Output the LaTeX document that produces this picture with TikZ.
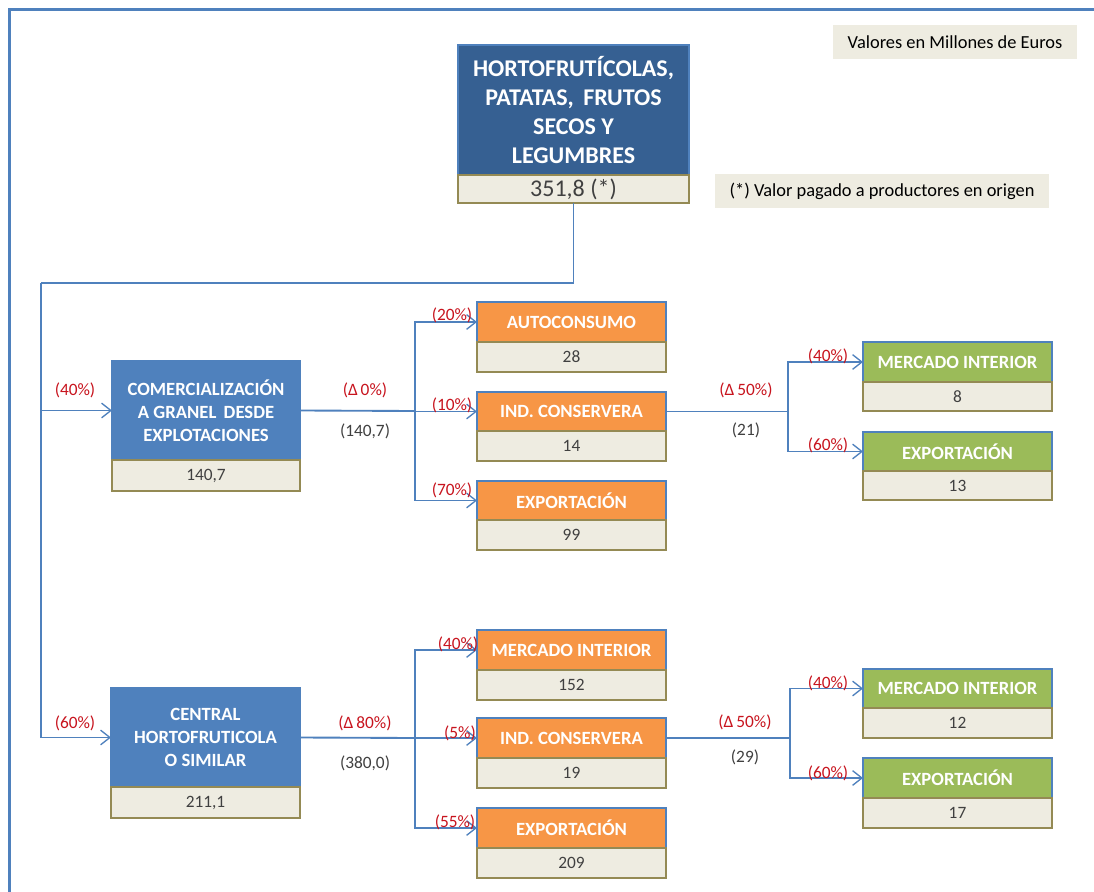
\documentclass[tikz,border=0pt]{standalone}
\usepackage{fontspec}
\setmainfont{Carlito}
\usetikzlibrary{arrows.meta}
\definecolor{dkblue}{HTML}{366092}
\definecolor{mdblue}{HTML}{4F81BD}
\definecolor{orng}{HTML}{F79646}
\definecolor{grn}{HTML}{9BBB59}
\definecolor{beige}{HTML}{EEECE1}
\definecolor{olive}{HTML}{948A54}
\definecolor{lblred}{HTML}{C8141E}
\definecolor{txtgray}{HTML}{404040}
\tikzset{
  hdr/.style={draw=mdblue, line width=1pt, inner sep=0pt, outer sep=0pt, align=center,
    text=white, font=\bfseries\fontsize{14}{17.25}\selectfont},
  valbox/.style={draw=olive, fill=beige, line width=1.1pt, inner sep=0pt, outer sep=0pt,
    text=txtgray, font=\fontsize{13}{15}\selectfont},
  conn/.style={draw=mdblue, line width=1.4pt},
  arr/.style={conn, -{Straight Barb[length=7pt,width=11pt,line width=1pt]}},
  pct/.style={text=lblred, font=\fontsize{13}{15}\selectfont, inner sep=0pt},
  amt/.style={text=txtgray, font=\fontsize{13}{15}\selectfont, inner sep=0pt},
  legend/.style={fill=beige, inner sep=0pt, text=black, font=\fontsize{13.8}{16}\selectfont}
}
\newcommand\twobox[9]{%
  \node[hdr, fill=#7, minimum width={(#3-#2)*0.75pt}, minimum height={(#5-#4)*0.75pt}]
    (#1) at ({(#2+#3)/2},{(#4+#5)/2}) {#8};
  \node[valbox, minimum width={(#3-#2)*0.75pt}, minimum height={(#6-#5)*0.75pt}]
    (#1v) at ({(#2+#3)/2},{(#5+#6)/2}) {#9};
}
\begin{document}
\begin{tikzpicture}[x=0.75pt,y=-0.75pt]
\useasboundingbox (0,0) rectangle (1094,891);
\fill[white] (0,0) rectangle (1094,891);
% frame
\draw[mdblue, line width=2.2pt] (9.5,900) -- (9.5,9.5) -- (1100,9.5);

% legends
\node[legend, minimum width=244*0.75pt, minimum height=34*0.75pt] (leg1) at (955,42) {Valores en Millones de Euros};
\node[legend, minimum width=334*0.75pt, minimum height=34*0.75pt] (leg2) at (882,191) {(*) Valor pagado a productores en origen};

% top box
\node[hdr, fill=dkblue, minimum width=231*0.75pt, minimum height=130*0.75pt,
  font=\bfseries\fontsize{18}{21.75}\selectfont] (top) at (573.5,110)
  {HORTOFRUTÍCOLAS,\\PATATAS,\, FRUTOS\\SECOS Y\\LEGUMBRES};
\node[valbox, minimum width=231*0.75pt, minimum height=28*0.75pt,
  font=\fontsize{18}{20}\selectfont] (topv) at (573.5,189) {351,8 (*)};

% level 1
\twobox{com}{112}{300}{361}{460}{491}{mdblue}{COMERCIALIZACIÓN\\A GRANEL\, DESDE\\EXPLOTACIONES}{140,7}
\twobox{cen}{111}{300}{688}{787}{818}{mdblue}{CENTRAL\\HORTOFRUTICOLA\\O SIMILAR}{211,1}

% level 2 (top group)
\twobox{auto}{477}{666}{302}{342}{372}{orng}{AUTOCONSUMO}{28}
\twobox{ind1}{477}{666}{392}{431}{461}{orng}{IND. CONSERVERA}{14}
\twobox{exp1}{477}{666}{481}{520}{550}{orng}{EXPORTACIÓN}{99}
% level 2 (bottom group)
\twobox{mer2}{477}{666}{630}{670}{700}{orng}{MERCADO INTERIOR}{152}
\twobox{ind2}{477}{666}{718}{758}{788}{orng}{IND. CONSERVERA}{19}
\twobox{exp2}{477}{666}{808}{848}{878}{orng}{EXPORTACIÓN}{209}

% level 3
\twobox{mer3}{863}{1052}{342}{382}{411}{grn}{MERCADO INTERIOR}{8}
\twobox{exp3}{863}{1052}{432}{471}{500}{grn}{EXPORTACIÓN}{13}
\twobox{mer4}{863}{1052}{669}{708}{738}{grn}{MERCADO INTERIOR}{12}
\twobox{exp4}{863}{1052}{758}{798}{828}{grn}{EXPORTACIÓN}{17}

% connectors
\coordinate (j0) at (41,283);
\draw[conn] (topv.south) |- (j0);
\draw[arr] (j0) |- (com.west);
\draw[arr] (j0) |- (cen.west);

\coordinate (b1) at (415,411);
\draw[conn] (com.east) -- (b1);
\draw[arr] (b1) |- (auto.west);
\draw[arr] (b1) |- (ind1.west);
\draw[arr] (b1) |- (exp1.west);

\coordinate (b2) at (415,738);
\draw[conn] (cen.east) -- (b2);
\draw[arr] (b2) |- (mer2.west);
\draw[arr] (b2) |- (ind2.west);
\draw[arr] (b2) |- (exp2.west);

\coordinate (b3) at (788,411.5);
\draw[conn] (ind1.east) -- (b3);
\draw[arr] (b3) |- (mer3.west);
\draw[arr] (b3) |- (exp3.west);

\coordinate (b4) at (790,738);
\draw[conn] (ind2.east) -- (b4);
\draw[arr] (b4) |- (mer4.west);
\draw[arr] (b4) |- (exp4.west);

% labels
\node[pct] (p40a) at (75,390) {(40\%)};
\node[pct] (p60a) at (75,723) {(60\%)};
\node[pct] (d0) at (365,390) {(Δ\,0\%)};
\node[amt] (a1407) at (365,431) {(140,7)};
\node[pct] (d80) at (365,723) {(Δ\,80\%)};
\node[amt] (a380) at (365,763) {(380,0)};
\node[pct] (p20) at (452,315) {(20\%)};
\node[pct] (p10) at (452,405) {(10\%)};
\node[pct] (p70) at (452,490) {(70\%)};
\node[pct] (p40b) at (458,644) {(40\%)};
\node[pct] (p5) at (460,733) {(5\%)};
\node[pct] (p55) at (455,822) {(55\%)};
\node[pct] (d50a) at (746,390) {(Δ\,50\%)};
\node[amt] (a21) at (746,430) {(21)};
\node[pct] (p40c) at (828,356) {(40\%)};
\node[pct] (p60c) at (828,445) {(60\%)};
\node[pct] (d50b) at (745,722) {(Δ\,50\%)};
\node[amt] (a29) at (745,757) {(29)};
\node[pct] (p40d) at (828,683) {(40\%)};
\node[pct] (p60d) at (828,773) {(60\%)};
\end{tikzpicture}
\end{document}
